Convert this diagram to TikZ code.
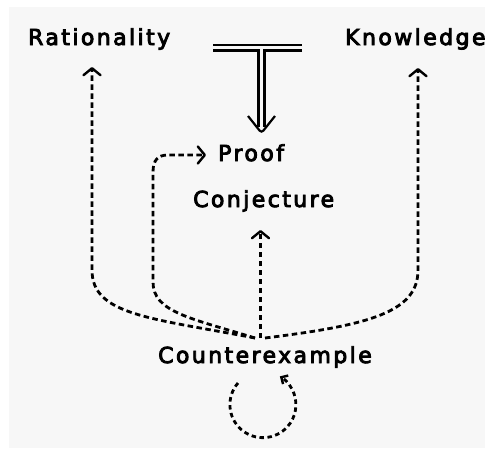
\documentclass[tikz,border=0pt]{standalone}
\usepackage{fontspec}
\usetikzlibrary{arrows.meta}
\newfontfamily\chic[LetterSpace=11,FakeBold=4]{DejaVu Sans}
\begin{document}
\begin{tikzpicture}[x=1pt,y=-1pt,
  lbl/.style={anchor=base west, inner sep=0pt, font=\chic\fontsize{22}{26}\selectfont},
  dl/.style={line width=2.8pt, dash pattern=on 5.5pt off 3.5pt},
  tip/.style={-{Straight Barb[length=7pt,width=17pt,line width=2.4pt,round]}},
  tbar/.style={line width=2.2pt}
]
\useasboundingbox (0,0) rectangle (485,450);
\fill[black!3] (9,7) rectangle (485,448);

\node[lbl] (rat) at (28,45) {Rationality};
\node[lbl] (know) at (345,45) {Knowledge};
\node[lbl] (proof) at (218,161) {Proof};
\node[lbl] (conj) at (193,207) {Conjecture};
\node[lbl] (ce) at (158,363) {Counterexample};

\coordinate (jn) at (255,338);
\coordinate (jnr) at (265,338);
\coordinate (jnc) at (260.5,338);
\coordinate (ratin) at (92,67);
\coordinate (knowin) at (418,68);
\coordinate (conjin) at (260.5,230);
\coordinate (proofin) at (206,155);
\coordinate (loopst) at (238,383);

% T symbol
\draw[tbar] (213,45) -- (302,45);
\draw[tbar] (213,50.5) -- (258.5,50.5) -- (258.5,127);
\draw[tbar] (302,50.5) -- (264.5,50.5) -- (264.5,127);
\draw[tbar, rounded corners=3pt] (248,116) -- (261.5,133) -- (275,116);

% dashed connectors
\draw[dl,tip] (jn) .. controls (150,318) and (92,315) .. (92,270) -- (ratin);
\draw[dl,tip] (jnr) .. controls (370,325) and (418,312) .. (418,270) -- (knowin);
\draw[dl,tip] (jnc) -- (conjin);
\draw[dl,tip] (jn) .. controls (190,318) and (153,312) .. (153,282) -- (153,172)
   .. controls (153,160) and (158,155) .. (168,155) -- (proofin);
\draw[dl, dash pattern=on 4.5pt off 3.5pt, -{Straight Barb[length=5pt,width=10pt,line width=2.4pt]}]
   (loopst) arc[start angle=221, end angle=-59, radius=33];
\end{tikzpicture}
\end{document}
